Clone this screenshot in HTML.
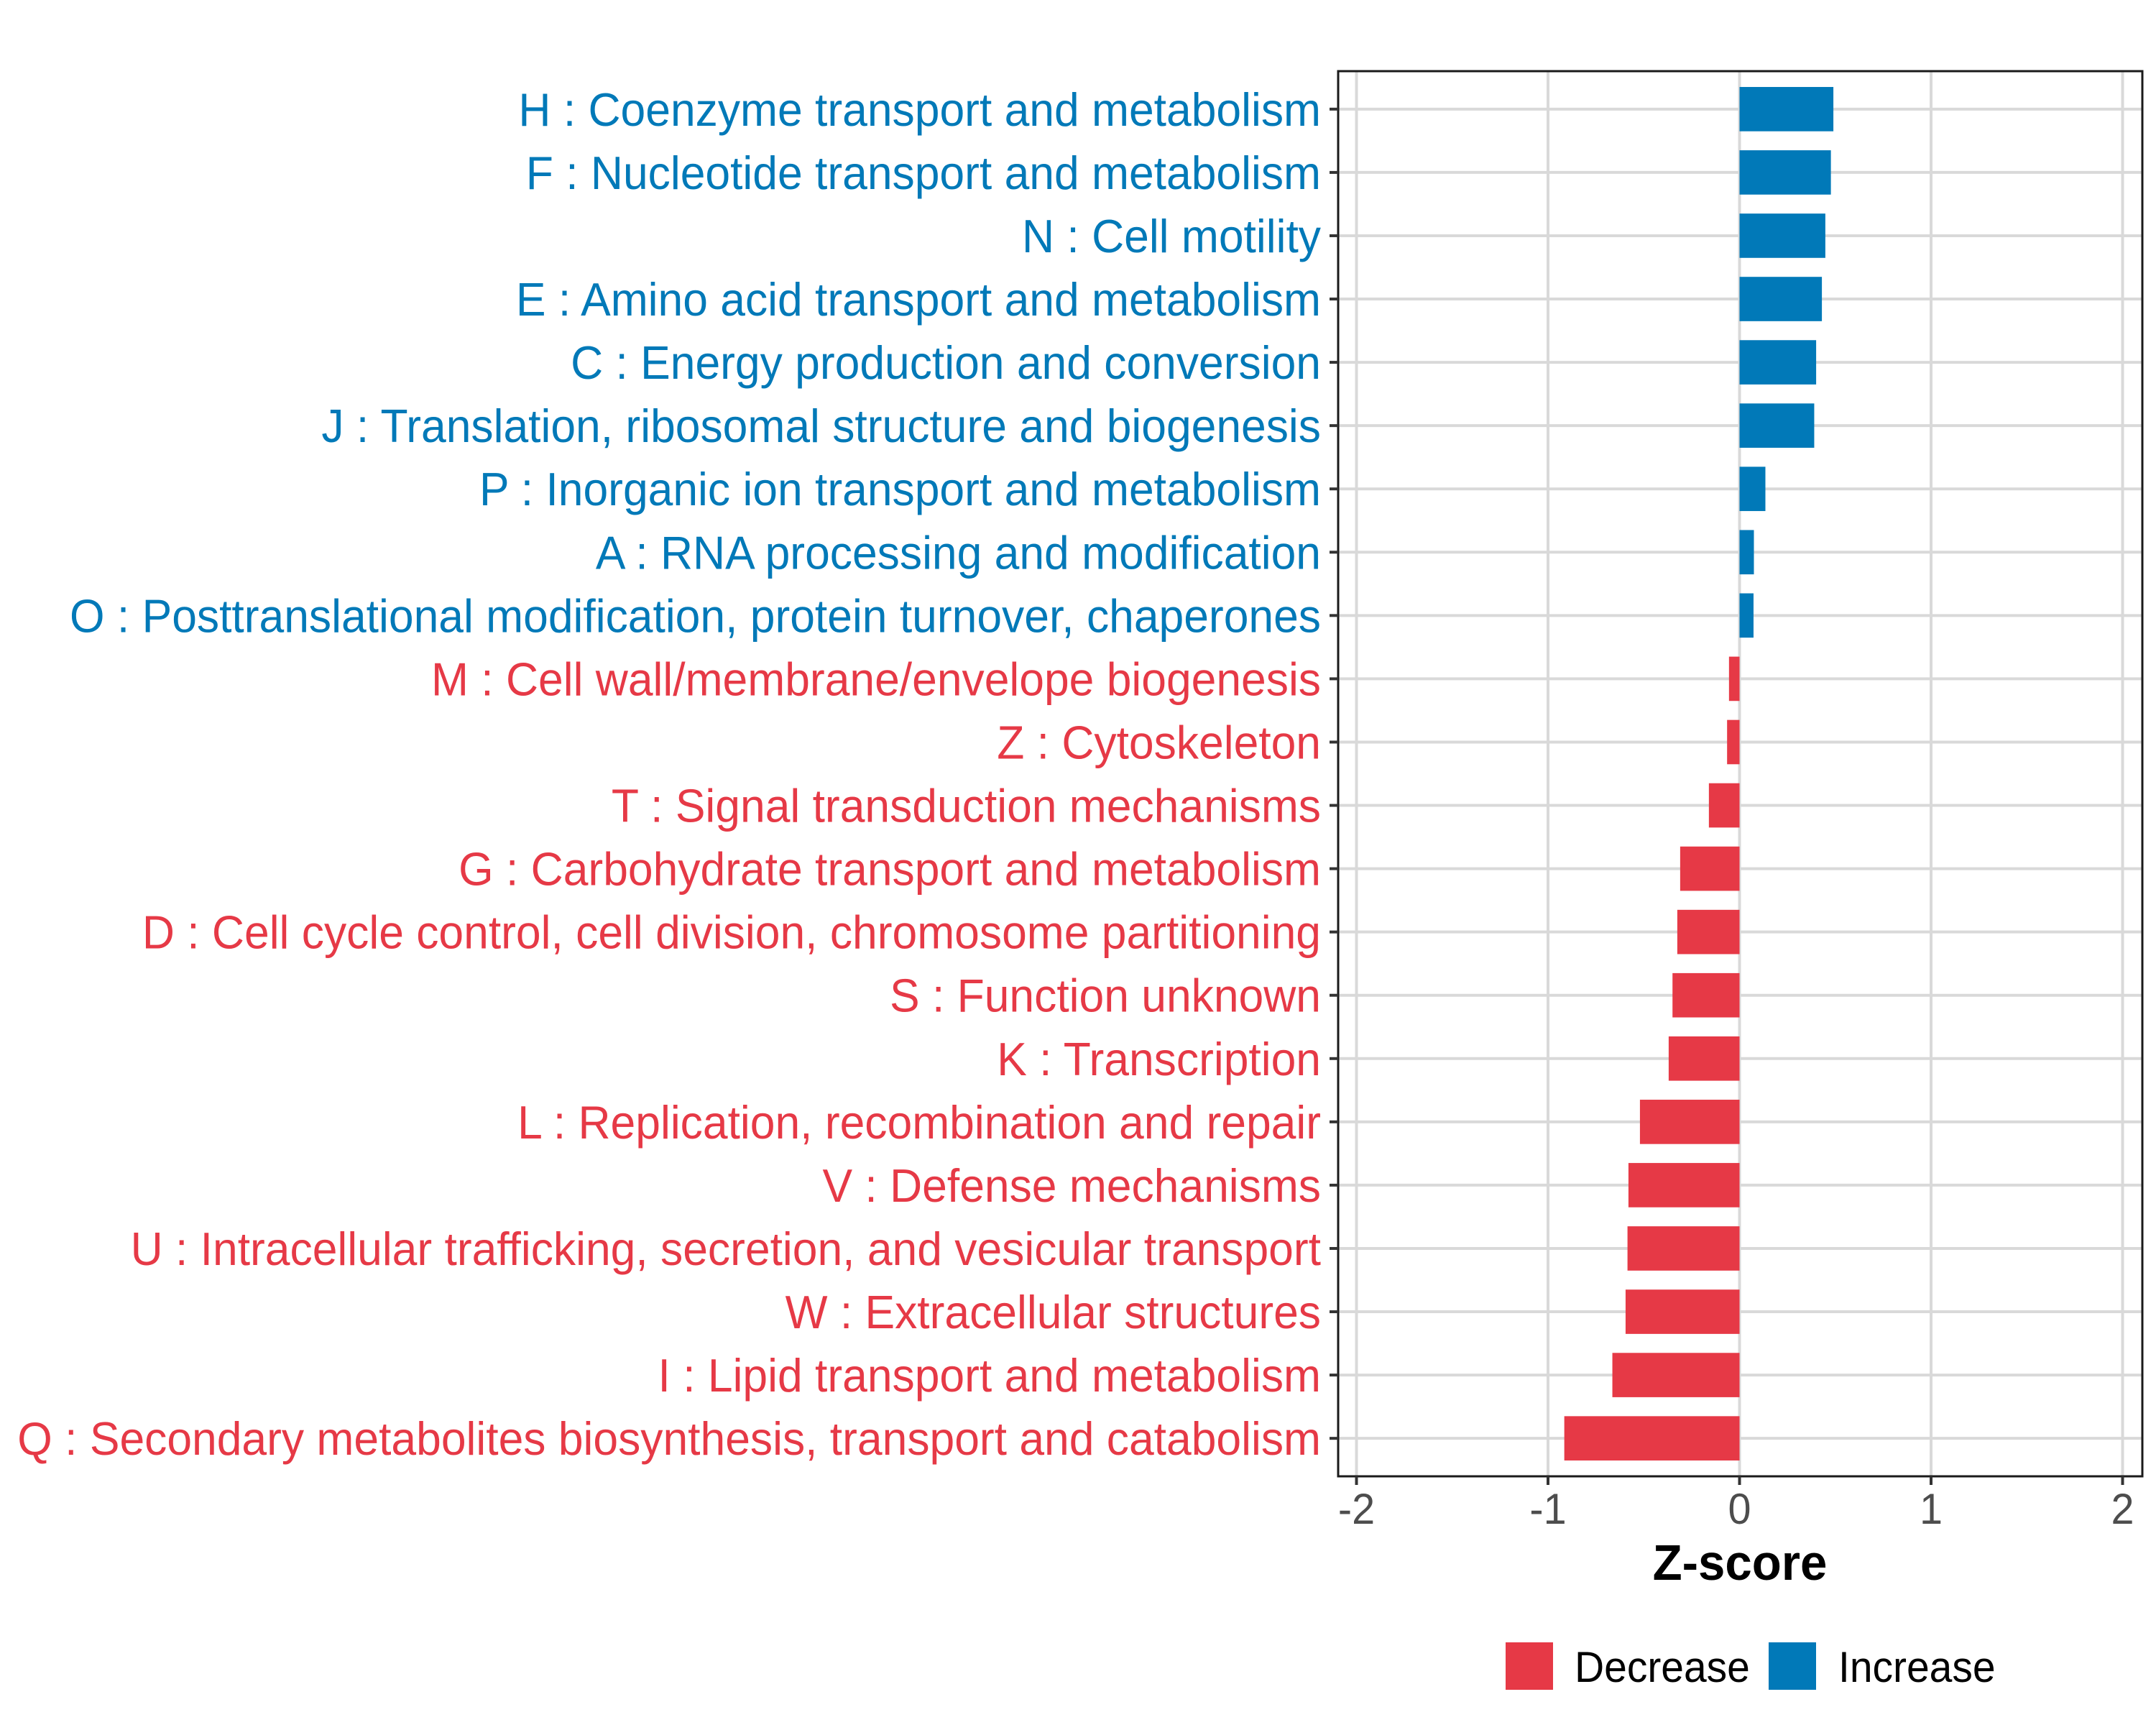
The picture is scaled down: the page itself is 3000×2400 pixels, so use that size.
<!DOCTYPE html>
<html><head><meta charset="utf-8"><style>
html,body{margin:0;padding:0;background:#fff;width:3000px;height:2400px;overflow:hidden}
svg text{font-family:"Liberation Sans",Arial,sans-serif}
</style></head><body>
<svg id="chart" width="3000" height="2400" viewBox="0 0 3000 2400" xmlns="http://www.w3.org/2000/svg">
<rect width="3000" height="2400" fill="#fff"/>
<g id="grid"></g>
<g id="bars"></g>
<g id="frame"></g>
<g id="ylabels"></g>
<g id="xaxis"></g>
<text transform="translate(2421,2198) scale(0.96,1)" text-anchor="middle" font-size="70" font-weight="bold" fill="#000">Z-score</text>
<g>
  <rect x="2095" y="2285" width="66" height="66" fill="#E63946"/>
  <text transform="translate(2191,2340) scale(0.95,1)" font-size="60" fill="#000">Decrease</text>
  <rect x="2461" y="2285" width="66" height="66" fill="#0179B8"/>
  <text transform="translate(2558,2340) scale(0.95,1)" font-size="60" fill="#000">Increase</text>
</g>
</svg>
<script>
const categories = [
"H : Coenzyme transport and metabolism",
"F : Nucleotide transport and metabolism",
"N : Cell motility",
"E : Amino acid transport and metabolism",
"C : Energy production and conversion",
"J : Translation, ribosomal structure and biogenesis",
"P : Inorganic ion transport and metabolism",
"A : RNA processing and modification",
"O : Posttranslational modification, protein turnover, chaperones",
"M : Cell wall/membrane/envelope biogenesis",
"Z : Cytoskeleton",
"T : Signal transduction mechanisms",
"G : Carbohydrate transport and metabolism",
"D : Cell cycle control, cell division, chromosome partitioning",
"S : Function unknown",
"K : Transcription",
"L : Replication, recombination and repair",
"V : Defense mechanisms",
"U : Intracellular trafficking, secretion, and vesicular transport",
"W : Extracellular structures",
"I : Lipid transport and metabolism",
"Q : Secondary metabolites biosynthesis, transport and catabolism"
];
const zscores = [0.49,0.477,0.448,0.43,0.40,0.39,0.135,0.075,0.073,-0.055,-0.065,-0.16,-0.31,-0.325,-0.35,-0.37,-0.52,-0.58,-0.585,-0.595,-0.664,-0.915];
const xTicks = [-2,-1,0,1,2];
const xTickLabels = ["-2","-1","0","1","2"];

const NS="http://www.w3.org/2000/svg";
const panel={l:1862,r:2981,t:99,b:2054};
const x0=2420.5, unit=266.5;
function xs(v){return x0+v*unit;}
const n=categories.length;
const step=(panel.b-panel.t)/(n+0.2);
function ys(i){return panel.t+step*(0.6+i);}
function mk(tag,attrs,parent){const e=document.createElementNS(NS,tag);for(const k in attrs)e.setAttribute(k,attrs[k]);parent.appendChild(e);return e;}
const blue="#0179B8", red="#E63946";
const grid=document.getElementById('grid');
xTicks.forEach((t,i)=>{
  const l=mk('line',{x1:xs(t),x2:xs(t),y1:panel.t,y2:panel.b,stroke:'#D9D9D9','stroke-width':4},grid);
  
  
});
categories.forEach((c,i)=>{
  const l=mk('line',{x1:panel.l,x2:panel.r,y1:ys(i),y2:ys(i),stroke:'#D9D9D9','stroke-width':4},grid);
  
  
});
const bars=document.getElementById('bars');
const bh=step*0.7;
zscores.forEach((v,i)=>{
  const a=Math.min(xs(0),xs(v)), w=Math.abs(xs(v)-xs(0));
  const r=mk('rect',{x:a,y:ys(i)-bh/2,width:w,height:bh,fill:v>=0?blue:red},bars);
  
  
});
const frame=document.getElementById('frame');
const fr=mk('rect',{x:panel.l,y:panel.t,width:panel.r-panel.l,height:panel.b-panel.t,fill:'none',stroke:'#1a1a1a','stroke-width':3},frame);


const yl=document.getElementById('ylabels');
categories.forEach((c,i)=>{
  const tk=mk('line',{x1:panel.l-12,x2:panel.l,y1:ys(i),y2:ys(i),stroke:'#333','stroke-width':4},yl);
  
  
  const t=mk('text',{transform:`translate(1838,${ys(i)+23}) scale(0.96,1)`,'text-anchor':'end','font-size':65,fill:zscores[i]>=0?blue:red},yl);
  t.textContent=c;
  
  
});
const xa=document.getElementById('xaxis');
xTicks.forEach((t,i)=>{
  const tk=mk('line',{x1:xs(t),x2:xs(t),y1:panel.b,y2:panel.b+12,stroke:'#333','stroke-width':4},xa);
  
  
  const tx=mk('text',{transform:`translate(${xs(t)},2120) scale(0.96,1)`,'text-anchor':'middle','font-size':60,fill:'#4D4D4D'},xa);
  tx.textContent=xTickLabels[i];
  
  
});
</script>
</body></html>
